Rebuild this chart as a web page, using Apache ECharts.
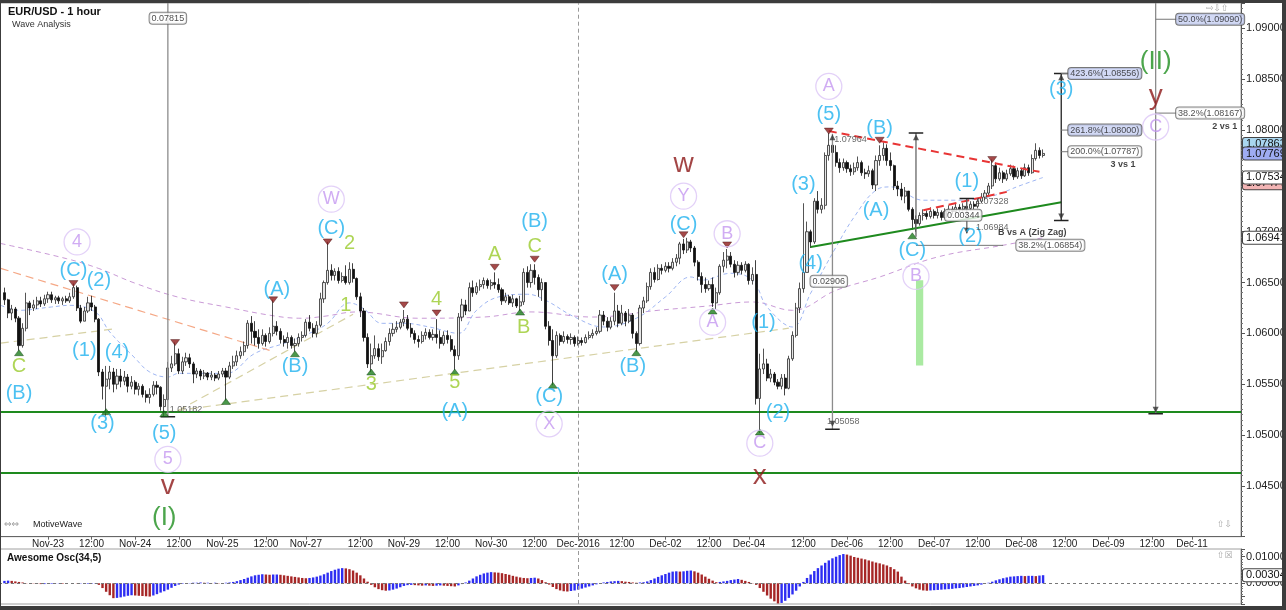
<!DOCTYPE html>
<html><head><meta charset="utf-8">
<script src="https://cdn.jsdelivr.net/npm/echarts@6/dist/echarts.min.js"></script>
<style>html,body{margin:0;padding:0;background:#fff;overflow:hidden}#c{width:1286px;height:610px}</style>
</head><body><div id="c"></div><script>
// ---------- DATA (EUR/USD 1h, first candle Nov-22 12:00) ----------
const firstOpen = 1.0640;
const closes = [
1.0633,1.0620,1.0624,1.0615,1.0588,1.0605,1.0630,1.0625,1.0628,1.0632,
1.0629,1.0634,1.0638,1.0633,1.0635,1.0632,1.0634,1.0632,1.0636,1.0645,
1.0625,1.0612,1.0622,1.0630,1.0626,1.0614,1.0562,1.0548,1.0555,1.0562,
1.0550,1.0558,1.0553,1.0557,1.0548,1.0552,1.0545,1.0548,1.0540,1.0537,
1.0540,1.0549,1.0547,1.0528,1.0535,1.0566,1.0570,1.0580,1.0563,1.0572,
1.0576,1.0570,1.0560,1.0563,1.0558,1.0561,1.0557,1.0559,1.0556,1.0560,
1.0563,1.0557,1.0568,1.0572,1.0578,1.0582,1.0588,1.0610,1.0602,1.0596,
1.0590,1.0598,1.0592,1.0600,1.0607,1.0602,1.0594,1.0591,1.0596,1.0588,
1.0590,1.0596,1.0598,1.0611,1.0605,1.0600,1.0608,1.0634,1.0650,1.0662,
1.0657,1.0661,1.0652,1.0656,1.0650,1.0663,1.0654,1.0636,1.0622,1.0596,
1.0570,1.0578,1.0585,1.0577,1.0583,1.0592,1.0600,1.0604,1.0606,1.0611,
1.0614,1.0605,1.0600,1.0594,1.0592,1.0598,1.0601,1.0596,1.0599,1.0596,
1.0590,1.0598,1.0594,1.0584,1.0578,1.0616,1.0628,1.0622,1.0645,1.0640,
1.0646,1.0648,1.0652,1.0647,1.0650,1.0648,1.0643,1.0632,1.0636,1.0630,
1.0634,1.0627,1.0631,1.0660,1.0650,1.0662,1.0655,1.0643,1.0650,1.0607,
1.0593,1.0578,1.0598,1.0592,1.0597,1.0594,1.0596,1.0590,1.0593,1.0591,
1.0596,1.0598,1.0600,1.0602,1.0618,1.0612,1.0606,1.0612,1.0622,1.0610,
1.0620,1.0612,1.0618,1.0600,1.0590,1.0625,1.0632,1.0646,1.0660,1.0653,
1.0664,1.0662,1.0666,1.0664,1.0670,1.0674,1.0688,1.0682,1.0690,1.0684,
1.0670,1.0656,1.0648,1.0644,1.0648,1.0630,1.0640,1.0666,1.0672,1.0676,
1.0668,1.0660,1.0667,1.0662,1.0668,1.0652,1.0658,1.0536,1.0565,1.0570,
1.0556,1.0560,1.0552,1.0548,1.0556,1.0546,1.0575,1.0598,1.0625,1.0644,
1.0660,1.0700,1.0690,1.0730,1.0722,1.0726,1.0775,1.0785,1.0778,1.0768,
1.0763,1.0768,1.0762,1.0759,1.0763,1.0768,1.0758,1.0757,1.0760,1.0746,
1.0770,1.0775,1.0782,1.0770,1.0765,1.0745,1.0742,1.0735,1.0740,1.0722,
1.0712,1.0708,1.0716,1.0718,1.0715,1.0720,1.0716,1.0719,1.0714,1.0720,
1.0722,1.0720,1.0724,1.0722,1.0725,1.0723,1.0727,1.0725,1.0730,1.0734,
1.0738,1.0745,1.0765,1.0752,1.0758,1.0752,1.0757,1.0762,1.0754,1.0760,
1.0755,1.0763,1.0758,1.0772,1.0780,1.0775,1.0777];
const highs = [
1.0645,1.0634,1.0628,1.0626,1.0617,1.0610,1.0640,1.0632,1.0633,1.0636,
1.0636,1.0638,1.0641,1.0641,1.0637,1.0637,1.0636,1.0637,1.0640,1.0649,
1.0647,1.0628,1.0626,1.0636,1.0637,1.0628,1.0615,1.0565,1.0568,1.0568,
1.0566,1.0565,1.0565,1.0563,1.0560,1.0558,1.0554,1.0551,1.0550,1.0544,
1.0546,1.0553,1.0553,1.0548,1.0540,1.0572,1.0578,1.0591,1.0585,1.0577,
1.0581,1.0580,1.0572,1.0566,1.0565,1.0564,1.0562,1.0563,1.0561,1.0563,
1.0566,1.0566,1.0572,1.0578,1.0583,1.0587,1.0592,1.0613,1.0617,1.0612,
1.0604,1.0604,1.0600,1.0606,1.0633,1.0612,1.0605,1.0598,1.0601,1.0598,
1.0595,1.0600,1.0602,1.0614,1.0618,1.0610,1.0612,1.0640,1.0652,1.0690,
1.0668,1.0664,1.0665,1.0660,1.0667,1.0670,1.0669,1.0655,1.0640,1.0625,
1.0600,1.0590,1.0598,1.0590,1.0590,1.0596,1.0605,1.0610,1.0612,1.0614,
1.0623,1.0618,1.0610,1.0603,1.0598,1.0602,1.0605,1.0604,1.0604,1.0614,
1.0603,1.0602,1.0603,1.0598,1.0588,1.0620,1.0634,1.0633,1.0650,1.0652,
1.0650,1.0653,1.0655,1.0654,1.0653,1.0660,1.0654,1.0645,1.0640,1.0638,
1.0638,1.0635,1.0637,1.0664,1.0666,1.0668,1.0668,1.0658,1.0654,1.0640,
1.0612,1.0604,1.0602,1.0600,1.0602,1.0599,1.0600,1.0598,1.0597,1.0596,
1.0599,1.0602,1.0604,1.0606,1.0623,1.0622,1.0616,1.0616,1.0640,1.0628,
1.0628,1.0622,1.0624,1.0620,1.0602,1.0628,1.0636,1.0650,1.0664,1.0665,
1.0668,1.0668,1.0670,1.0670,1.0674,1.0678,1.0690,1.0693,1.0694,1.0692,
1.0686,1.0672,1.0660,1.0655,1.0652,1.0655,1.0645,1.0668,1.0680,1.0683,
1.0680,1.0672,1.0671,1.0670,1.0671,1.0669,1.0665,1.0672,1.0580,1.0585,
1.0575,1.0565,1.0562,1.0555,1.0560,1.0560,1.0578,1.0602,1.0630,1.0650,
1.0728,1.0710,1.0702,1.0733,1.0740,1.0733,1.0778,1.0797,1.0792,1.0785,
1.0772,1.0772,1.0770,1.0766,1.0768,1.0774,1.0770,1.0762,1.0765,1.0762,
1.0775,1.0785,1.0788,1.0786,1.0778,1.0766,1.0750,1.0748,1.0744,1.0740,
1.0724,1.0716,1.0719,1.0722,1.0721,1.0724,1.0722,1.0723,1.0721,1.0723,
1.0726,1.0725,1.0728,1.0727,1.0728,1.0733,1.0730,1.0730,1.0733,1.0738,
1.0741,1.0748,1.0771,1.0768,1.0763,1.0760,1.0761,1.0766,1.0765,1.0763,
1.0762,1.0767,1.0766,1.0776,1.0787,1.0783,1.0781];
const lows = [
1.0628,1.0615,1.0613,1.0611,1.0583,1.0586,1.0602,1.0618,1.0622,1.0624,
1.0626,1.0627,1.0630,1.0630,1.0629,1.0629,1.0628,1.0630,1.0630,1.0634,
1.0622,1.0610,1.0612,1.0620,1.0622,1.0611,1.0558,1.0535,1.0519,1.0545,
1.0542,1.0545,1.0547,1.0549,1.0542,1.0545,1.0540,1.0539,1.0537,1.0532,
1.0531,1.0538,1.0540,1.0524,1.0518,1.0534,1.0562,1.0568,1.0560,1.0560,
1.0568,1.0566,1.0551,1.0556,1.0554,1.0555,1.0554,1.0554,1.0553,1.0554,
1.0557,1.0534,1.0555,1.0565,1.0568,1.0575,1.0578,1.0585,1.0590,1.0588,
1.0585,1.0588,1.0587,1.0590,1.0597,1.0598,1.0590,1.0587,1.0585,1.0585,
1.0582,1.0587,1.0592,1.0596,1.0602,1.0596,1.0596,1.0606,1.0630,1.0648,
1.0652,1.0652,1.0649,1.0650,1.0648,1.0648,1.0650,1.0633,1.0616,1.0592,
1.0566,1.0562,1.0575,1.0573,1.0570,1.0582,1.0588,1.0597,1.0601,1.0604,
1.0607,1.0603,1.0596,1.0590,1.0586,1.0590,1.0594,1.0594,1.0593,1.0590,
1.0585,1.0588,1.0590,1.0582,1.0564,1.0574,1.0612,1.0618,1.0622,1.0636,
1.0638,1.0642,1.0644,1.0644,1.0643,1.0644,1.0640,1.0628,1.0630,1.0628,
1.0626,1.0625,1.0622,1.0628,1.0645,1.0645,1.0648,1.0636,1.0632,1.0604,
1.0588,1.0549,1.0576,1.0588,1.0590,1.0590,1.0589,1.0587,1.0588,1.0588,
1.0590,1.0594,1.0595,1.0598,1.0600,1.0608,1.0602,1.0604,1.0608,1.0606,
1.0608,1.0607,1.0610,1.0595,1.0582,1.0588,1.0620,1.0630,1.0643,1.0650,
1.0652,1.0658,1.0660,1.0660,1.0662,1.0666,1.0668,1.0678,1.0679,1.0680,
1.0666,1.0652,1.0640,1.0640,1.0642,1.0626,1.0624,1.0638,1.0660,1.0664,
1.0665,1.0655,1.0657,1.0658,1.0660,1.0648,1.0648,1.0530,1.0502,1.0560,
1.0553,1.0552,1.0549,1.0545,1.0545,1.0539,1.0545,1.0573,1.0596,1.0620,
1.0640,1.0660,1.0684,1.0688,1.0718,1.0718,1.0722,1.0770,1.0770,1.0764,
1.0758,1.0760,1.0758,1.0755,1.0756,1.0760,1.0755,1.0752,1.0754,1.0742,
1.0740,1.0765,1.0770,1.0765,1.0760,1.0741,1.0735,1.0731,1.0728,1.0720,
1.0702,1.0700,1.0706,1.0711,1.0712,1.0713,1.0713,1.0713,1.0711,1.0713,
1.0717,1.0717,1.0719,1.0719,1.0720,1.0720,1.0721,1.0722,1.0723,1.0728,
1.0731,1.0736,1.0742,1.0748,1.0750,1.0748,1.0750,1.0755,1.0751,1.0752,
1.0752,1.0754,1.0755,1.0757,1.0770,1.0772,1.0773];
// Awesome Oscillator (34,5), one value per candle
const aoValues = [
0.0009,0.0010,0.0009,0.0007,0.0005,0.0003,0.0001,0.0000,-0.0001,-0.0002,
-0.0003,-0.0003,-0.0002,-0.0002,-0.0001,-0.0001,-0.0002,-0.0001,0.0000,0.0000,
-0.0001,-0.0001,-0.0002,-0.0002,-0.0002,-0.0001,-0.0006,-0.0018,-0.0032,-0.0045,
-0.0056,-0.0055,-0.0053,-0.0050,-0.0047,-0.0045,-0.0046,-0.0047,-0.0048,-0.0049,
-0.0050,-0.0046,-0.0041,-0.0035,-0.0030,-0.0024,-0.0017,-0.0010,-0.0005,-0.0002,
0.0000,0.0001,0.0002,0.0002,0.0003,0.0002,0.0002,0.0001,0.0002,0.0001,
0.0001,0.0002,0.0003,0.0005,0.0008,0.0012,0.0016,0.0021,0.0026,0.0030,
0.0032,0.0034,0.0033,0.0032,0.0033,0.0033,0.0032,0.0030,0.0028,0.0026,
0.0024,0.0022,0.0020,0.0019,0.0020,0.0022,0.0025,0.0029,0.0034,0.0040,
0.0046,0.0051,0.0055,0.0057,0.0056,0.0053,0.0048,0.0040,0.0030,0.0018,
0.0006,-0.0006,-0.0015,-0.0022,-0.0026,-0.0028,-0.0027,-0.0024,-0.0020,-0.0015,
-0.0010,-0.0007,-0.0006,-0.0007,-0.0008,-0.0009,-0.0008,-0.0009,-0.0010,-0.0009,
-0.0008,-0.0009,-0.0010,-0.0011,-0.0012,-0.0008,-0.0003,0.0003,0.0010,0.0018,
0.0026,0.0032,0.0037,0.0040,0.0042,0.0041,0.0040,0.0038,0.0035,0.0032,
0.0028,0.0025,0.0022,0.0020,0.0019,0.0020,0.0021,0.0018,0.0012,0.0004,
-0.0005,-0.0014,-0.0022,-0.0027,-0.0030,-0.0031,-0.0029,-0.0027,-0.0024,-0.0020,
-0.0016,-0.0012,-0.0008,-0.0004,0.0000,0.0003,0.0005,0.0007,0.0008,0.0009,
0.0008,0.0006,0.0005,0.0003,0.0002,0.0003,0.0004,0.0007,0.0012,0.0018,
0.0024,0.0030,0.0035,0.0040,0.0044,0.0045,0.0044,0.0045,0.0047,0.0048,
0.0045,0.0040,0.0033,0.0025,0.0017,0.0010,0.0004,0.0005,0.0007,0.0009,
0.0012,0.0014,0.0016,0.0013,0.0009,0.0005,0.0001,-0.0006,-0.0018,-0.0032,
-0.0046,-0.0058,-0.0068,-0.0076,-0.0074,-0.0066,-0.0055,-0.0042,-0.0028,-0.0012,
0.0005,0.0020,0.0033,0.0046,0.0057,0.0067,0.0077,0.0086,0.0094,0.0100,
0.0106,0.0110,0.0108,0.0104,0.0099,0.0096,0.0093,0.0090,0.0086,0.0082,
0.0078,0.0075,0.0071,0.0067,0.0061,0.0053,0.0044,0.0025,0.0010,-0.0003,
-0.0012,-0.0019,-0.0024,-0.0027,-0.0028,-0.0027,-0.0026,-0.0025,-0.0024,-0.0023,
-0.0022,-0.0021,-0.0019,-0.0018,-0.0016,-0.0014,-0.0012,-0.0010,-0.0008,-0.0005,
-0.0002,0.0002,0.0006,0.0011,0.0015,0.0019,0.0022,0.0025,0.0026,0.0027,
0.0028,0.0027,0.0028,0.0028,0.0027,0.0029,0.00304];

// tick labels
const priceTickLabels = ['1.04500','1.05000','1.05500','1.06000','1.06500','1.07000','1.07500','1.08000','1.08500','1.09000'];
const oscTickLabels = ['0.00000','0.01000'];
const xTickLabels = {
 'Nov-23 00:00':'Nov-23','Nov-23 12:00':'12:00','Nov-24 00:00':'Nov-24','Nov-24 12:00':'12:00',
 'Nov-25 00:00':'Nov-25','Nov-25 12:00':'12:00','Nov-27 21:00':'Nov-27','Nov-28 12:00':'12:00',
 'Nov-29 00:00':'Nov-29','Nov-29 12:00':'12:00','Nov-30 00:00':'Nov-30','Nov-30 12:00':'12:00',
 'Dec-01 00:00':'Dec-2016','Dec-01 12:00':'12:00','Dec-02 00:00':'Dec-02','Dec-02 12:00':'12:00',
 'Dec-04 21:00':'Dec-04','Dec-05 12:00':'12:00','Dec-06 00:00':'Dec-06','Dec-06 12:00':'12:00',
 'Dec-07 00:00':'Dec-07','Dec-07 12:00':'12:00','Dec-08 00:00':'Dec-08','Dec-08 12:00':'12:00',
 'Dec-09 00:00':'Dec-09','Dec-09 12:00':'12:00','Dec-11 21:00':'Dec-11'};

// moving averages: [bar, price]  (bar = trading hours after Nov-23 00:00)
const slowMA = [[-13,1.06884],[5,1.06736],[14,1.06638],[24,1.06493],[36,1.06355],[49,1.06260],[63,1.06168],[70,1.06149],[76,1.06168],[85,1.06211],[102,1.06149],[120,1.06161],[133,1.06211],[150,1.06161],[168,1.06227],[181,1.06267],[194,1.06309],[205,1.06227],[217,1.06424],[229,1.06555],[245,1.06752],[263,1.06867],[274,1.06941]];
const fastMA = [[-13,1.06276],[-8,1.06227],[1,1.06260],[6,1.06276],[13,1.06211],[17,1.06014],[24,1.05755],[28,1.05620],[33,1.05571],[36,1.05607],[49,1.05607],[57,1.05804],[65,1.05902],[72,1.06001],[77,1.06099],[83,1.06300],[87,1.06240],[92,1.06099],[98,1.06099],[105,1.06063],[113,1.06001],[118,1.06227],[124,1.06358],[132,1.06385],[137,1.06326],[145,1.06161],[153,1.06063],[162,1.06149],[170,1.06358],[177,1.06555],[180,1.06523],[188,1.06591],[194,1.06523],[198,1.06260],[205,1.06063],[210,1.06395],[217,1.06850],[222,1.07146],[228,1.07409],[232,1.07441],[241,1.07310],[250,1.07310],[259,1.07342],[268,1.07458],[274,1.07534]];
// trend lines
const salmonLine = [[-13,1.06639],[61,1.05833]];
const tanLines = [[[-13,1.05904],[18,1.06043]],[[36,1.05243],[84,1.06188]],[[32,1.05224],[204,1.06051]]];
const greenTrend = [[210,1.06850],[279,1.07290]];
const redDashed = [[[215,1.07990],[273,1.07589]],[[241,1.07211],[264,1.07392]]];
const supportLevels = [1.05233,1.04632];
const axisMarkers = [[1.07863,'#a9d6ef'],[1.07769,'#9eacf2'],[1.07477,'#f2b4b4'],[1.07534,'#ffffff'],[1.06941,'#ffffff']];
const oscMarker = 0.00304;

// wave labels [bar, price, text]
const cyanLabels = [[-8,1.0541,'(B)'],[7,1.0662,'(C)'],[14,1.0652,'(2)'],[10,1.0583,'(1)'],[19,1.0581,'(4)'],[15,1.0511,'(3)'],[32,1.0502,'(5)'],[63,1.0643,'(A)'],[68,1.0567,'(B)'],[78,1.0703,'(C)'],[112,1.0523,'(A)'],[134,1.0710,'(B)'],[138,1.0538,'(C)'],[156,1.0658,'(A)'],[161,1.0567,'(B)'],[175,1.0707,'(C)'],[197,1.0611,'(1)'],[201,1.0522,'(2)'],[208,1.0746,'(3)'],[210,1.0669,'(4)'],[215,1.0815,'(5)'],[228,1.0721,'(A)'],[229,1.0802,'(B)'],[238,1.0682,'(C)'],[253,1.0749,'(1)'],[254,1.0695,'(2)'],[279,1.0840,'(3)']];
const circleLabels = [[8,1.0690,'4'],[78,1.0732,'W'],[33,1.0476,'5'],[175,1.0735,'Y'],[138,1.0511,'X'],[187,1.0698,'B'],[183,1.0611,'A'],[196,1.0492,'C'],[215,1.0843,'A'],[239,1.0656,'B'],[305,1.0803,'C']];
const limeLabels = [[-8,1.0567,'C'],[83,1.0688,'2'],[82,1.0627,'1'],[89,1.0550,'3'],[107,1.0633,'4'],[112,1.0552,'5'],[123,1.0678,'A'],[131,1.0606,'B'],[134,1.0685,'C']];
const maroonLabels = [[33,1.0450,'v'],[175,1.0766,'w'],[196,1.0459,'x'],[305,1.0833,'y']];
const majorLabels = [[32,1.0419,'(I)'],[305,1.0867,'(II)']];
const highMarks = [[7,1.0649],[35,1.0591],[62,1.0633],[77,1.0690],[98,1.0628],[107,1.0620],[123,1.0665],[134,1.0673],[156,1.0645],[175,1.0697],[187,1.0687],[215,1.0799],[229,1.0790],[260,1.0771]];
const lowMarks = [[-8,1.0581],[16,1.0523],[32,1.0521],[49,1.0533],[68,1.0580],[89,1.0562],[112,1.0562],[130,1.0621],[139,1.0549],[162,1.0581],[183,1.0622],[196,1.0503],[238,1.0696]];
// measuring tools
const measureLines = [[33,1.0925,1.0518,'#8c8c8c'],[216,1.07964,1.05058,'#8c8c8c'],[239,1.0797,1.0695,'#666'],[253,1.07328,1.06984,'#666'],[279,1.08556,1.0711,'#222'],[305,1.0925,1.0521,'#8c8c8c']];
const tBars = [[216,1.05058],[239,1.0797],[279,1.08556],[279,1.0711],[305,1.0521],[253,1.07328],[33,1.0518]];
const arrowUp = [[239,1.0793],[279,1.0852],[216,1.0793]];
const arrowDown = [[216,1.0511],[279,1.0715],[305,1.0525],[253,1.0701]];
const connectors = [[[279,1.08556],[281,1.08556]],[[279,1.0800],[281,1.0800]],[[279,1.07787],[281,1.07787]],[[305,1.0909],[312,1.0909]],[[305,1.08167],[312,1.08167]],[[239,1.06866],[263,1.06866]]];
const fibBoxesBlue = [[291,1.08556,'423.6%(1.08556)'],[291,1.08000,'261.8%(1.08000)'],[320,1.09090,'50.0%(1.09090)']];
const fibBoxesWhite = [[291,1.07787,'200.0%(1.07787)'],[320,1.08167,'38.2%(1.08167)'],[276,1.06866,'38.2%(1.06854)'],[33,1.0910,'0.07815'],[215,1.06512,'0.02906'],[252,1.07162,'0.00344']];
const smallTexts = [[38,1.05254,'1.05182'],[221,1.0791,'1.07964'],[219,1.05134,'1.05058'],[260,1.0730,'1.07328'],[260,1.07044,'1.06984']];
const boldTexts = [[271,1.06994,'B vs A (Zig Zag)'],[296,1.07664,'3 vs 1'],[324,1.08038,'2 vs 1']];
const greenBar = [[239,1.06522],[241,1.05685]];

// ---------- BUILD ----------
const MONTHS = ['Jan','Feb','Mar','Apr','May','Jun','Jul','Aug','Sep','Oct','Nov','Dec'];
function buildCategories(count){
  const out=[]; let t=Date.UTC(2016,10,22,11);
  while(out.length<count){
    const d=new Date(t), day=d.getUTCDay(), h=d.getUTCHours();
    const closed=(day===5&&h>=23)||day===6||(day===0&&h<21);
    if(!closed) out.push(MONTHS[d.getUTCMonth()]+'-'+String(d.getUTCDate()).padStart(2,'0')+' '+String(h).padStart(2,'0')+':00');
    t+=3600000;
  }
  return out;
}
const categories = buildCategories(342);
const at = b => b + 13;               // category index of bar b
const FONT = 'Liberation Sans, Arial, sans-serif';

const candleData = closes.map((c,i)=>{
  const o = i===0 ? firstOpen : closes[i-1];
  return [i+1, o, c, Math.min(lows[i],o,c), Math.max(highs[i],o,c)];
});
const aoData = aoValues.map((v,i)=>({value:[i+1,v], itemStyle:{color:(i===0||v>=aoValues[i-1])?'#2d2df2':'#a62626'}}));

const series = [];
function line(points, style, extra){
  series.push(Object.assign({type:'line', xAxisIndex:0, yAxisIndex:0, symbol:'none', silent:true, animation:false, z:3,
    data: points.map(([b,p])=>[at(b),p]), lineStyle: style}, extra||{}));
}
function texts(items, label, extra){
  series.push(Object.assign({type:'scatter', xAxisIndex:0, yAxisIndex:0, symbolSize:0, silent:true, z:20, animation:false,
    data: items.map(([b,p,t])=>({value:[at(b),p], label:{formatter:t}})),
    label: Object.assign({show:true, position:'inside', fontFamily:FONT}, label)}, extra||{}));
}

// moving averages (+ value boxes on the price axis)
line(slowMA, {color:'#c99ad6', width:1, type:[5,4]}, {smooth:0.4, z:2,
  markLine:{silent:true, symbol:['none','none'], animation:false, precision:5,
    data: axisMarkers.map(([v,bg])=>({yAxis:v, lineStyle:{color:'rgba(0,0,0,0)'},
      label:{show:true, position:'end', distance:2, formatter:()=>v.toFixed(5), backgroundColor:bg, borderColor:'#444', borderWidth:1, borderRadius:2, padding:[1,3,0,3], fontSize:11, color:'#111', fontFamily:FONT}}))}});
line(fastMA, {color:'#9fb6f2', width:1, type:[4,3]}, {smooth:0.4, z:2});
line(salmonLine, {color:'#f5a886', width:1.2, type:[8,5]});
tanLines.forEach(s=>line(s, {color:'#d6d1a4', width:1.2, type:[8,5]}));

// candles
series.push({type:'candlestick', xAxisIndex:0, yAxisIndex:0, data:candleData, encode:{x:0,y:[1,2,3,4]}, barWidth:2.6, z:5, animation:false,
  itemStyle:{color:'#e6e6e6', color0:'#111111', borderColor:'#2a2a2a', borderColor0:'#111111', borderWidth:0.8},
  markLine:{silent:true, symbol:['none','none'], animation:false, precision:5, label:{show:false},
    data:[...supportLevels.map(v=>({yAxis:v, lineStyle:{color:'#1e8a1e', width:2, type:'solid'}})),
      {xAxis:'Dec-01 00:00', lineStyle:{color:'#9a9a9a', width:1, type:[4,3]}}]},
  markArea:{silent:true, itemStyle:{color:'#aaeaa2'}, data:[[{coord:[at(greenBar[0][0]),greenBar[0][1]]},{coord:[at(greenBar[1][0]),greenBar[1][1]]}]]}
});

// trend lines
line(greenTrend, {color:'#1e8a1e', width:2}, {z:6});
redDashed.forEach(s=>line(s, {color:'#e83535', width:2, type:[8,5]}, {z:6}));

// measuring tools
measureLines.forEach(([b,t,bt,c])=>line([[b,t],[b,bt]], {color:c, width:1.3}, {z:7}));
tBars.forEach(([b,p])=>line([[b-2,p],[b+2,p]], {color:'#222', width:1.5}, {z:7}));
connectors.forEach(s=>line(s, {color:'#777', width:1}, {z:7}));
series.push({type:'scatter', xAxisIndex:0, yAxisIndex:0, symbol:'triangle', symbolSize:[6,6], silent:true, z:8, animation:false, itemStyle:{color:'#333'}, data:arrowUp.map(([b,p])=>[at(b),p])});
series.push({type:'scatter', xAxisIndex:0, yAxisIndex:0, symbol:'triangle', symbolRotate:180, symbolSize:[6,6], silent:true, z:8, animation:false, itemStyle:{color:'#333'}, data:arrowDown.map(([b,p])=>[at(b),p])});

// swing markers
series.push({type:'scatter', xAxisIndex:0, yAxisIndex:0, symbol:'triangle', symbolRotate:180, symbolSize:[9,6], silent:true, z:9, animation:false, itemStyle:{color:'#8e1b1b', borderColor:'#3a0a0a', borderWidth:0.5}, data:highMarks.map(([b,p])=>[at(b),p])});
series.push({type:'scatter', xAxisIndex:0, yAxisIndex:0, symbol:'triangle', symbolSize:[9,6], silent:true, z:9, animation:false, itemStyle:{color:'#1d7d1d', borderColor:'#0a3a0a', borderWidth:0.5}, data:lowMarks.map(([b,p])=>[at(b),p])});

// wave labels
texts(cyanLabels, {color:'#1fb1ef', fontSize:20});
texts(limeLabels, {color:'#9acb2c', fontSize:20});
texts(maroonLabels, {color:'#8c1717', fontSize:28});
texts(majorLabels, {color:'#1f8f1f', fontSize:26});
texts(circleLabels, {color:'#c497f0', fontSize:18}, {symbol:'circle', symbolSize:26, itemStyle:{color:'rgba(255,255,255,0)', borderColor:'#dcc6f6', borderWidth:1.3}});

// annotation texts
texts(fibBoxesBlue, {color:'#222', fontSize:9, backgroundColor:'#c7cff3', borderColor:'#555', borderWidth:1, borderRadius:3, padding:[1,2]});
texts(fibBoxesWhite, {color:'#222', fontSize:9, backgroundColor:'#ffffff', borderColor:'#666', borderWidth:1, borderRadius:3, padding:[1,2]});
texts(smallTexts, {color:'#444', fontSize:9});
texts(boldTexts, {color:'#111', fontSize:9, fontWeight:'bold'});

// oscillator
series.push({type:'bar', xAxisIndex:1, yAxisIndex:1, data:aoData, barWidth:2.4, animation:false, silent:true,
  markLine:{silent:true, symbol:['none','none'], animation:false, precision:5,
    data:[{yAxis:0, lineStyle:{color:'#777', width:1, type:[3,3]}, label:{show:false}},
      {xAxis:'Dec-01 00:00', lineStyle:{color:'#9a9a9a', width:1, type:[4,3]}, label:{show:false}},
      {yAxis:oscMarker, lineStyle:{color:'rgba(0,0,0,0)'}, label:{show:true, position:'end', distance:2, formatter:()=>oscMarker.toFixed(5), backgroundColor:'#fff', borderColor:'#444', borderWidth:1, borderRadius:2, padding:[1,3,0,3], fontSize:11, color:'#111', fontFamily:FONT}}]}
});

const tickFn = (i, v) => xTickLabels.hasOwnProperty(v);
const option = {
  animation:false,
  backgroundColor:'#ffffff',
  textStyle:{fontFamily:FONT},
  grid:[
    {left:-1, width:1242, top:3, height:533.7, show:true, borderColor:'#a0a0a0', borderWidth:1, outerBoundsMode:'none'},
    {left:-1, width:1242, top:549, height:55, show:true, borderColor:'#a0a0a0', borderWidth:1, outerBoundsMode:'none'}
  ],
  xAxis:[
    {type:'category', gridIndex:0, data:categories, boundaryGap:true,
      axisLine:{lineStyle:{color:'#666'}},
      axisTick:{show:true, interval:tickFn, alignWithLabel:true, length:3, lineStyle:{color:'#666'}},
      axisLabel:{interval:tickFn, formatter:v=>xTickLabels[v]||'', fontSize:10, color:'#222', margin:3},
      splitLine:{show:false}},
    {type:'category', gridIndex:1, data:categories, boundaryGap:true, axisLine:{show:false}, axisTick:{show:false}, axisLabel:{show:false}, splitLine:{show:false}}
  ],
  yAxis:[
    {type:'value', gridIndex:0, position:'right', min:1.04, max:1.0925, interval:0.005,
      axisLine:{show:true, lineStyle:{color:'#555'}},
      axisTick:{show:true, length:4, lineStyle:{color:'#555'}},
      minorTick:{show:true, splitNumber:10, length:2, lineStyle:{color:'#777'}},
      axisLabel:{fontSize:11, color:'#222', margin:5, showMaxLabel:false, formatter:v=>priceTickLabels.includes(v.toFixed(5))?v.toFixed(5):''},
      splitLine:{show:false}},
    {type:'value', gridIndex:1, position:'right', min:-0.0078, max:0.0129,
      axisLine:{show:true, lineStyle:{color:'#555'}},
      axisTick:{show:true, length:4, lineStyle:{color:'#555'}},
      minorTick:{show:true, splitNumber:5, length:2, lineStyle:{color:'#777'}},
      axisLabel:{fontSize:11, color:'#222', margin:5, showMaxLabel:false, showMinLabel:false, formatter:v=>oscTickLabels.includes(Math.abs(v).toFixed(5))&&v>-1e-9?v.toFixed(5):''},
      splitLine:{show:false}}
  ],
  graphic:[
    {type:'text', left:8, top:6, z:100, style:{text:'EUR/USD - 1 hour', font:'bold 11px '+FONT, fill:'#111'}},
    {type:'text', left:12, top:20, z:100, style:{text:'Wave Analysis', font:'9px '+FONT, fill:'#333'}},
    {type:'text', left:7, top:553, z:100, style:{text:'Awesome Osc(34,5)', font:'bold 10px '+FONT, fill:'#111'}},
    {type:'text', left:4, top:520, z:100, style:{text:'\u21D4\u21D4', font:'9px DejaVu Sans', fill:'#999'}},
    {type:'text', left:33, top:520, z:100, style:{text:'MotiveWave', font:'9px '+FONT, fill:'#222'}},
    {type:'text', left:1206, top:4, z:100, style:{text:'\u21E8\u21E9\u21E7', font:'9px DejaVu Sans', fill:'#aaa'}},
    {type:'text', left:1217, top:520, z:100, style:{text:'\u21E7\u21E9', font:'9px DejaVu Sans', fill:'#aaa'}},
    {type:'text', left:1217, top:551, z:100, style:{text:'\u21E7\u2612', font:'9px DejaVu Sans', fill:'#aaa'}},
    {type:'rect', left:0, top:0, z:100, shape:{width:1286, height:3}, style:{fill:'#3c3c3c'}},
    {type:'rect', left:0, top:606, z:100, shape:{width:1286, height:4}, style:{fill:'#3c3c3c'}},
    {type:'rect', left:1282, top:0, z:100, shape:{width:4, height:610}, style:{fill:'#3c3c3c'}},
    {type:'rect', left:0, top:0, z:100, shape:{width:1, height:610}, style:{fill:'#3c3c3c'}}
  ],
  series
};
const chart = echarts.init(document.getElementById('c'), null, {renderer:'canvas'});
chart.setOption(option);
</script></body></html>
